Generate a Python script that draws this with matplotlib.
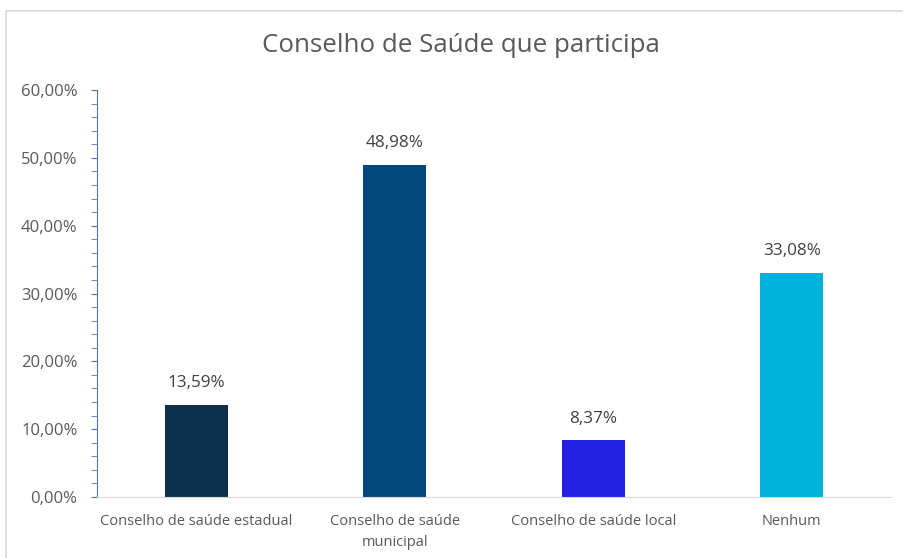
import matplotlib
matplotlib.use('Agg')
import matplotlib.pyplot as plt
from matplotlib.ticker import MultipleLocator, FuncFormatter
from matplotlib.patches import Rectangle

# dados
categorias = ['Conselho de saúde estadual', 'Conselho de saúde\nmunicipal',
              'Conselho de saúde local', 'Nenhum']
valores = [13.59, 48.98, 8.37, 33.08]
rotulos = ['13,59%', '48,98%', '8,37%', '33,08%']
cores = ['#0c2f4e', '#03497e', '#2222e0', '#00b2d9']

plt.rcParams['font.family'] = ['Open Sans', 'DejaVu Sans']

fig = plt.figure(figsize=(9.04, 5.58), dpi=100)
ax = fig.add_axes([0.1073, 0.1093, 0.8783, 0.7294])

x = range(len(categorias))
ax.bar(x, valores, width=0.316, color=cores)
for i, v in enumerate(valores):
    ax.text(i, v + 2.0, rotulos[i], ha='center', va='bottom', fontsize=12.3, color='#404040')

ax.set_xlim(-0.5, 3.5)
ax.set_ylim(0, 60)
ax.yaxis.set_major_locator(MultipleLocator(10))
ax.yaxis.set_minor_locator(MultipleLocator(2))
ax.yaxis.set_major_formatter(FuncFormatter(lambda v, p: f'{v:.2f}'.replace('.', ',') + '%'))
ax.set_xticks(list(x))
ax.set_xticklabels(categorias, fontsize=10.5, color='#595959', linespacing=1.6)
ax.tick_params(axis='x', length=0, pad=12)
ax.tick_params(axis='y', which='both', length=4, color='#4a78c8', labelsize=12,
               labelcolor='#595959', pad=10)

for s in ['top', 'right']:
    ax.spines[s].set_visible(False)
ax.spines['left'].set_color('#4a78c8')
ax.spines['bottom'].set_color('#d9d9d9')

# título centrado na área do gráfico
fig.text(461 / 904, 1 - 46 / 558, 'Conselho de Saúde que participa', ha='center', va='center',
         fontsize=18.6, color='#595959')

# moldura do gráfico
fig.patches.append(Rectangle((6 / 904, -0.01), 1.0, 1 - 11 / 558 + 0.01, transform=fig.transFigure,
                             fill=False, edgecolor='#d9d9d9', linewidth=1.2))

fig.savefig('out.png', dpi=100)
